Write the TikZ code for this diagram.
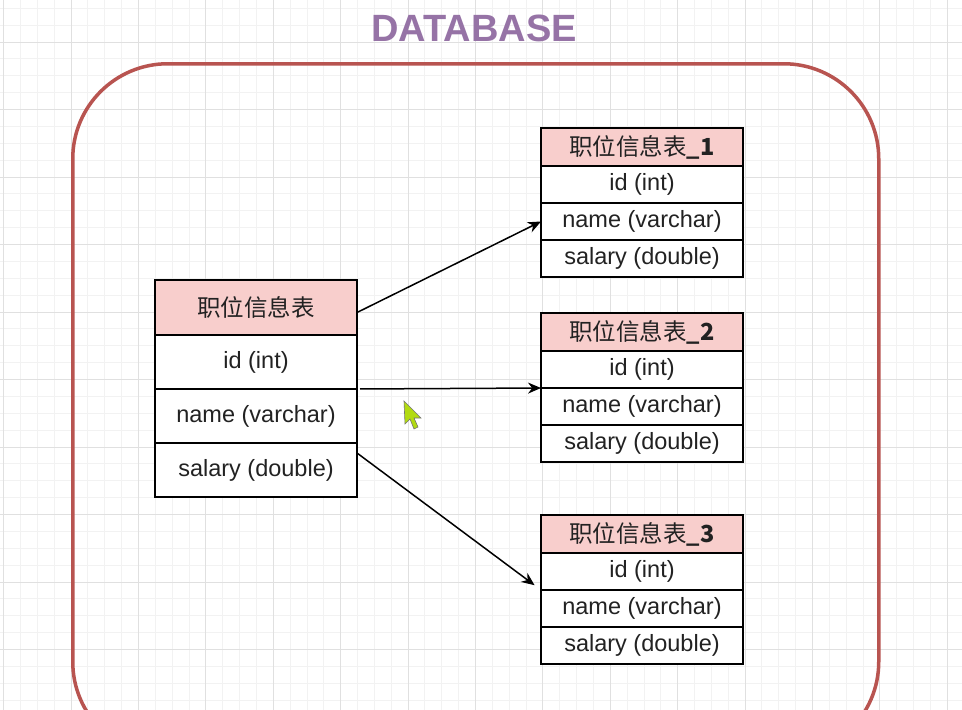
\documentclass[tikz,border=0pt]{standalone}
\usepackage{fontspec}
\setmainfont{Liberation Sans}
\newfontfamily\cjk{Noto Sans CJK SC}
\usepackage{xcolor}
\usepackage{tikz}
\usetikzlibrary{arrows.meta, positioning}

\definecolor{headpink}{HTML}{F8CECC}
\definecolor{framered}{HTML}{B85450}
\definecolor{titlepurple}{HTML}{9673A6}
\definecolor{gridminor}{HTML}{F2F2F2}
\definecolor{gridmajor}{HTML}{E0E0E0}
\definecolor{cursorgreen}{HTML}{B2DB11}
\definecolor{fieldtext}{HTML}{222222}

\tikzset{
    tblhead/.style={rectangle, draw=black, fill=headpink, line width=1.4pt, minimum width=202pt, minimum height=#1, inner sep=0pt, outer sep=0pt, text=fieldtext, font=\fontsize{23.5}{27}\selectfont},
    tblrow/.style={rectangle, draw=black, fill=white, line width=1.4pt, minimum width=202pt, minimum height=#1, inner sep=0pt, outer sep=0pt, text=fieldtext, font=\fontsize{23.5}{27}\selectfont},
    link/.style={-{Stealth[length=13pt, width=11pt]}, line width=1.5pt}
}

\begin{document}
\begin{tikzpicture}[x=1pt, y=-1pt,
    dbframe/.style={rectangle, draw=framered, line width=3.5pt, rounded corners=95pt, minimum width=806pt, minimum height=693pt, anchor=north west},
    dbtitle/.style={text=titlepurple, font=\fontsize{38}{44}\selectfont\bfseries, inner sep=0pt}]

    \useasboundingbox (0,0) rectangle (962,710);
    \fill[white] (0,0) rectangle (962,710);

    % background grid
    \foreach \k in {-4,...,53}
        \draw[gridminor, line width=0.8pt] ({71+16.85*\k},0) -- ({71+16.85*\k},710);
    \foreach \k in {-2,...,40}
        \draw[gridminor, line width=0.8pt] (0,{42+16.875*\k}) -- (962,{42+16.875*\k});
    \foreach \k in {-1,...,13}
        \draw[gridmajor, line width=0.9pt] ({71+67.4*\k},0) -- ({71+67.4*\k},710);
    \foreach \k in {0,...,10}
        \draw[gridmajor, line width=0.9pt] (0,{42+67.5*\k}) -- (962,{42+67.5*\k});

    % database frame (runs off the bottom)
    \begin{scope}
        \clip (0,0) rectangle (962,710);
        \node[dbframe] (db) at (71,62) {};
    \end{scope}
    \node[dbtitle] (title) at (474,28.5) {DATABASE};

    % source table
    \node[tblhead=55pt, anchor=north west] (lhead) at (155,280) {\cjk 职位信息表};
    \node[tblrow=54pt, below=0pt of lhead] (lid) {id (int)};
    \node[tblrow=54pt, below=0pt of lid] (lname) {name (varchar)};
    \node[tblrow=54pt, below=0pt of lname] (lsal) {salary (double)};

    % table 1
    \node[tblhead=38pt, anchor=north west] (ahead) at (541,128) {\cjk 职位信息表\textbf{\_1}};
    \node[tblrow=37pt, below=0pt of ahead] (aid) {id (int)};
    \node[tblrow=37pt, below=0pt of aid] (aname) {name (varchar)};
    \node[tblrow=37pt, below=0pt of aname] (asal) {salary (double)};

    % table 2
    \node[tblhead=38pt, anchor=north west] (bhead) at (541,313) {\cjk 职位信息表\textbf{\_2}};
    \node[tblrow=37pt, below=0pt of bhead] (bid) {id (int)};
    \node[tblrow=37pt, below=0pt of bid] (bname) {name (varchar)};
    \node[tblrow=37pt, below=0pt of bname] (bsal) {salary (double)};

    % table 3
    \node[tblhead=38pt, anchor=north west] (chead) at (541,515) {\cjk 职位信息表\textbf{\_3}};
    \node[tblrow=37pt, below=0pt of chead] (cid) {id (int)};
    \node[tblrow=37pt, below=0pt of cid] (cname) {name (varchar)};
    \node[tblrow=37pt, below=0pt of cname] (csal) {salary (double)};

    % split arrows
    \draw[link] ([yshift=-5pt]lhead.east) -- (aname.west);
    \draw[link, shorten <=3pt] (lname.north east) -- (bid.south west);
    \draw[link, shorten >=8pt] ([yshift=-10pt]lsal.north east) -- (cid.south west);

    % mouse pointer
    \fill[cursorgreen, draw=black!55, line width=0.6pt] (404,401) -- (405,424) -- (410,419) -- (414,429) -- (418,427) -- (414,418) -- (421,418) -- cycle;

\end{tikzpicture}
\end{document}
